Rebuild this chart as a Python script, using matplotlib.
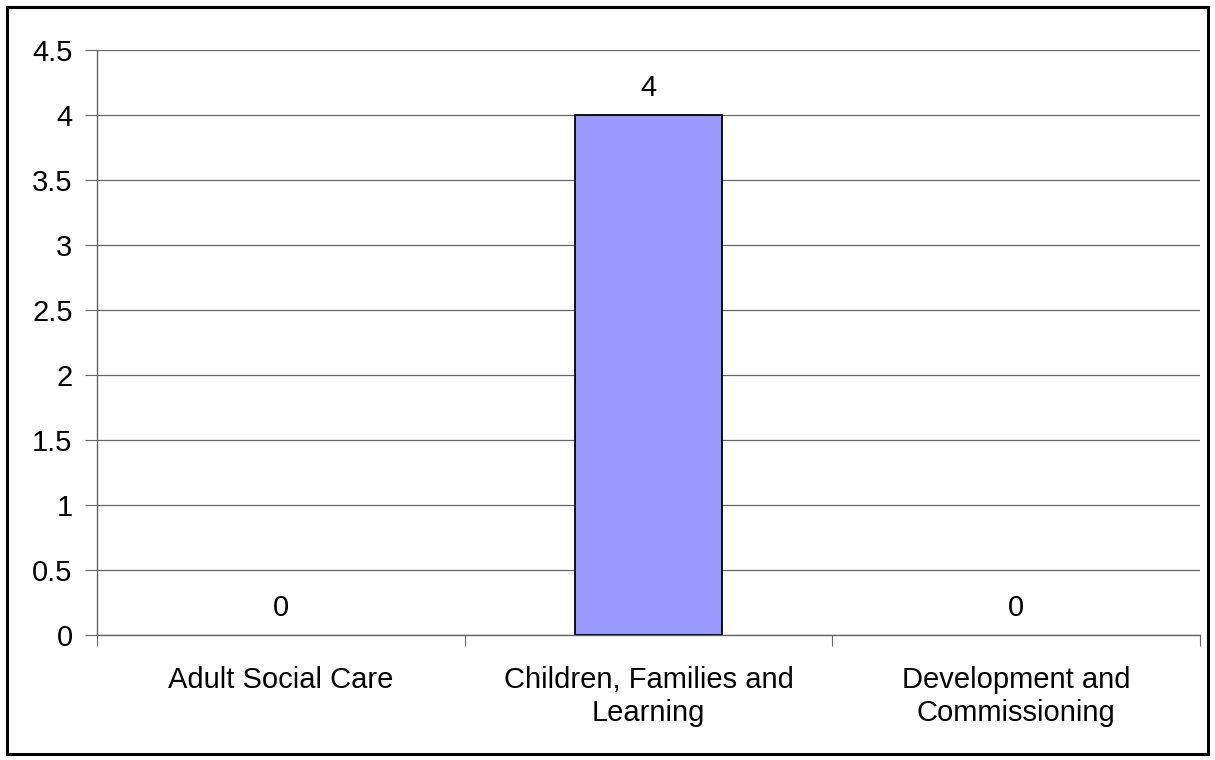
import matplotlib
matplotlib.use("Agg")
import matplotlib.pyplot as plt
from matplotlib.patches import Rectangle

categories = ["Adult Social Care", "Children, Families and\nLearning", "Development and\nCommissioning"]
values = [0, 4, 0]
y_ticks = [0, 0.5, 1, 1.5, 2, 2.5, 3, 3.5, 4, 4.5]
y_tick_labels = ["0", "0.5", "1", "1.5", "2", "2.5", "3", "3.5", "4", "4.5"]

plt.rcParams["font.family"] = ["Liberation Sans", "DejaVu Sans"]
FS = 21

fig = plt.figure(figsize=(12.15, 7.6), dpi=100, facecolor="white")
ax = fig.add_axes([97 / 1215, 1 - 635 / 760, 1103 / 1215, 585 / 760])

# outer frame around the whole chart
fig.patches.append(Rectangle((7 / 1215, 6 / 760), 1201 / 1215, 747 / 760,
                             transform=fig.transFigure, fill=False,
                             edgecolor="black", linewidth=2.2))

x = list(range(len(categories)))
ax.bar(x, values, width=0.4, color="#9999FF", edgecolor="black",
       linewidth=[1.3 if v else 0 for v in values], zorder=3)

for xi, v in zip(x, values):
    ax.text(xi, v + 0.146, f"{v:g}", ha="center", va="baseline", fontsize=FS, zorder=4)

ax.set_xlim(-0.5, len(categories) - 0.5)
ax.set_ylim(0, 4.5)
ax.set_yticks(y_ticks)
ax.set_yticklabels(y_tick_labels, fontsize=FS)
ax.yaxis.grid(True, color="#666666", linewidth=0.9, zorder=0)

# category labels centred, ticks at boundaries
ax.set_xticks([i - 0.5 for i in range(len(categories) + 1)])
ax.set_xticklabels([])
ax.set_xticks(x, minor=True)
ax.set_xticklabels(categories, minor=True, fontsize=FS, linespacing=1.25)
ax.tick_params(axis="x", which="minor", length=0, pad=22)
ax.tick_params(axis="x", which="major", length=8, color="#666666", direction="out")
ax.tick_params(axis="y", length=8.6, color="#666666", direction="out", pad=9)

for s in ["top", "right"]:
    ax.spines[s].set_visible(False)
for s in ["left", "bottom"]:
    ax.spines[s].set_color("#666666")
    ax.spines[s].set_linewidth(1.0)

plt.savefig("out.png", dpi=100, facecolor=fig.get_facecolor())
